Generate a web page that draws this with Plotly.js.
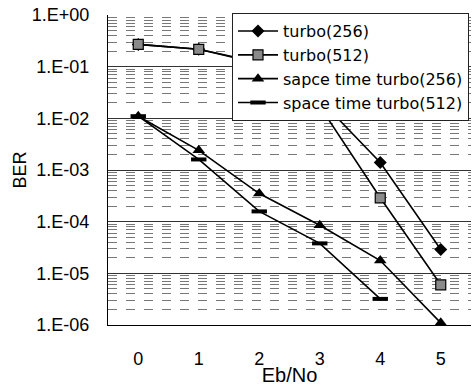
<!DOCTYPE html>
<html><head><meta charset="utf-8">
<script src="https://cdn.plot.ly/plotly-3.0.1.min.js"></script>
<style>html,body{margin:0;padding:0;background:#fff}#chart{width:474px;height:386px}</style>
</head><body><div id="chart"></div>
<script>
const ebno = [0, 1, 2, 3, 4, 5];
const ebnoST512 = [0, 1, 2, 3, 4];
const turbo256 = [0.27, 0.217, 0.12, 0.023, 1.4e-3, 2.9e-5];
const turbo512 = [0.27, 0.217, 0.115, 0.017, 2.9e-4, 6e-6];
const st256 = [1.1e-2, 2.4e-3, 3.5e-4, 8.5e-5, 1.77e-5, 1.1e-6];
const st512 = [1.1e-2, 1.6e-3, 1.58e-4, 3.8e-5, 3.2e-6];
const seriesNames = ['turbo(256)', 'turbo(512)', 'sapce time turbo(256)', 'space time turbo(512)'];
const yTickVals = [1, 1e-1, 1e-2, 1e-3, 1e-4, 1e-5, 1e-6];
const yTickText = ['1.E+00', '1.E-01', '1.E-02', '1.E-03', '1.E-04', '1.E-05', '1.E-06'];
const xTickVals = [0, 1, 2, 3, 4, 5];
const xTitle = 'Eb/No';
const yTitle = 'BER';

const minorVals = [];
for (let d = -6; d < 0; d++) for (let m = 2; m <= 9; m++) minorVals.push(m * Math.pow(10, d));

const FONT = 'Liberation Sans, Arial, sans-serif';
const lineStyle = {color: '#000', width: 1.6};
const traces = [
  {x: ebno, y: turbo256, name: seriesNames[0], mode: 'lines+markers', line: lineStyle,
   marker: {symbol: 'diamond', size: 10, color: '#000'}, cliponaxis: false},
  {x: ebno, y: turbo512, name: seriesNames[1], mode: 'lines+markers', line: lineStyle,
   marker: {symbol: 'square', size: 10, color: '#8a8a8a', line: {color: '#000', width: 1.2}}, cliponaxis: false},
  {x: ebno, y: st256, name: seriesNames[2], mode: 'lines+markers', line: lineStyle,
   marker: {symbol: 'triangle-up', size: 11, color: '#000'}, cliponaxis: false},
  {x: ebnoST512, y: st512, name: seriesNames[3], mode: 'lines+markers', line: lineStyle,
   marker: {symbol: 'line-ew', size: 11, color: '#000', line: {color: '#000', width: 4}}, cliponaxis: false}
];

const layout = {
  width: 474, height: 386,
  margin: {l: 108, r: 3, t: 15, b: 61},
  paper_bgcolor: '#fff', plot_bgcolor: '#fff',
  font: {family: FONT, size: 18, color: '#000'},
  showlegend: true,
  legend: {
    x: 0.3416, y: 1.006, xanchor: 'left', yanchor: 'top',
    bgcolor: '#fff', bordercolor: '#222', borderwidth: 1,
    font: {family: 'DejaVu Sans, sans-serif', size: 16, color: '#000'},
    itemwidth: 40
  },
  xaxis: {
    range: [-0.5, 5.5], tickvals: xTickVals, ticks: '', showgrid: false, zeroline: false,
    showline: true, linecolor: '#000', linewidth: 1.2,
    tickfont: {family: FONT, size: 18, color: '#000'},
    ticklabelstandoff: 17,
    title: {text: xTitle, font: {family: FONT, size: 20, color: '#000'}, standoff: 2}
  },
  yaxis: {
    type: 'log', range: [-6, 0], tickvals: yTickVals, ticktext: yTickText, ticks: '',
    showgrid: true, gridcolor: '#333', gridwidth: 1, zeroline: false,
    showline: true, linecolor: '#000', linewidth: 1.2,
    tickfont: {family: FONT, size: 18, color: '#000'},
    ticklabelstandoff: 14,
    minor: {tickvals: minorVals, showgrid: true, gridcolor: '#777', gridwidth: 1, griddash: 'dash', ticks: ''},
    title: {text: yTitle, font: {family: FONT, size: 18, color: '#000'}, standoff: 0}
  }
};

Plotly.newPlot('chart', traces, layout, {displayModeBar: false, staticPlot: true});
</script></body></html>
